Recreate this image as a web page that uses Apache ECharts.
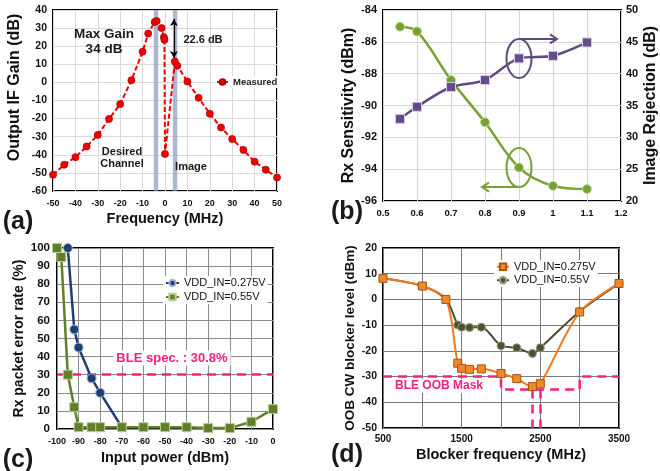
<!DOCTYPE html>
<html><head><meta charset="utf-8">
<script src="https://cdn.jsdelivr.net/npm/echarts/dist/echarts.min.js"></script>
<style>html,body{margin:0;padding:0;background:#fff}#c{width:660px;height:471px}</style>
</head><body><div id="c"></div>
<script>
// ---- (a) IF gain vs frequency
const aFreq = [-50,-45,-40,-35,-30,-25,-20,-15,-10,-7.5,-4.6,-3.7,-1.5,-0.5,-0.25,0,4.4,5.5,10,15,20,25,30,35,40,45,50];
const aGain = [-51,-45.5,-41.3,-35.4,-29,-20.2,-12,1.2,17,27,33.4,33.9,30,25,23.5,-39.5,11.5,9.2,0.5,-8.5,-17.3,-24.9,-31.3,-37.3,-43.8,-48.2,-52.5];
const aBands = [[-5,-3],[3.5,5.5]];
const aArrow = [[4,35],[4,13.5]];
// ---- (b) sensitivity & image rejection vs VDD
const bVdd = [0.55,0.6,0.7,0.8,0.9,1.0,1.1];
const bSens = [-85.05,-85.35,-88.4,-91.05,-93.9,-95.05,-95.25];
const bIR = [32.9,34.8,37.9,39.0,42.4,42.8,44.9];
// ---- (c) PER vs input power
const cPinLow = [-95,-92,-90,-84,-80,-70];
const cPerLow = [100,55,45,28,20,1];
const cPinHigh = [-100,-98,-95,-92,-90,-84,-80,-70,-60,-50,-40,-30,-20,-10,0];
const cPerHigh = [100,95,30,12,1,1,1,1,1,1,1,0.5,0.5,4,11];
const cSpec = 30;
// ---- (d) OOB blocker
const dFreq = [500,1000,1300,1450,1500,1600,1750,2000,2200,2400,2500,3000,3500];
const dLow = [8.2,5.2,0,-24.8,-26.8,-27.2,-27,-28.8,-30.8,-33.9,-32.8,-4.9,6.2];
const dHigh = [8.2,5.2,0,-9.9,-10.8,-10.9,-10.8,-18,-18.8,-21,-18.8,-4.7,6.2];
const dMaskX = [500,2000,2000,3000,3000,3500];
const dMaskY = [-30,-30,-35,-35,-30,-30];
const dMarkFreq = [2400,2500];
const legendText = {c275:'VDD_IN=0.275V', c55:'VDD_IN=0.55V', d275:'VDD_IN=0.275V', d55:'VDD_IN=0.55V'};

const zip = (a,b)=>a.map((v,i)=>[v,b[i]]);
const FF = 'Liberation Sans, Arial, sans-serif';
const PINK = '#f7207f';
const chart = echarts.init(document.getElementById('c'), null, {renderer:'canvas'});

function grid(l,t,w,h){return {left:l,top:t,width:w,height:h,show:true,borderColor:'#000',borderWidth:2,containLabel:false,backgroundColor:'transparent'};}
function xA(gi,min,max,itv,fs,margin,name,gap,split,extra){
  return Object.assign({gridIndex:gi,type:'value',min:min,max:max,interval:itv,
    name:name,nameLocation:'middle',nameGap:gap,
    nameTextStyle:{fontFamily:FF,fontWeight:'bold',fontSize:14.5,color:'#111'},
    axisLine:{show:false},axisTick:{show:false},
    axisLabel:{fontFamily:FF,fontWeight:'bold',fontSize:fs,color:'#111',margin:margin},
    splitLine:{show:true,lineStyle:{color:split,width:1}}},extra||{});
}
function yA(gi,min,max,itv,fs,margin,name,gap,nfs,split,extra){
  return Object.assign({gridIndex:gi,type:'value',min:min,max:max,interval:itv,
    name:name,nameLocation:'middle',nameGap:gap,
    nameTextStyle:{fontFamily:FF,fontWeight:'bold',fontSize:nfs,color:'#111'},
    axisLine:{show:false},axisTick:{show:false},
    axisLabel:{fontFamily:FF,fontWeight:'bold',fontSize:fs,color:'#111',margin:margin},
    splitLine:{show:!!split,lineStyle:{color:split||'#ccc',width:1}}},extra||{});
}

const option = {
  animation:false,
  backgroundColor:'#fff',
  grid:[grid(53,10,224,181),grid(383,10,239,191),grid(57,248,216,181),grid(383,248,236,180)],
  xAxis:[
    xA(0,-50,50,10,9,8,'Frequency (MHz)',20,'#dadada'),
    xA(1,0.5,1.2,0.1,9.5,7,'',20,'#d4d4d4'),
    xA(2,-100,0,10,9,8,'Input power (dBm)',21,'#8c8c8c'),
    xA(3,500,3500,500,10,6,'Blocker frequency (MHz)',19,'#7a7a7a',
      {axisLabel:{fontFamily:FF,fontWeight:'bold',fontSize:10,color:'#111',margin:6,
        formatter:v=>((v-500)%1000===0?String(v):'')}})
  ],
  yAxis:[
    yA(0,-60,40,10,10.5,6,'Output IF Gain (dB)',30,16,'#dadada',{nameTextStyle:{fontFamily:FF,fontWeight:'bold',fontSize:16,color:'#111',padding:[0,0,0,26]}}),
    yA(1,-96,-84,2,11,6,'Rx Sensitivity (dBm)',26,16,'#d4d4d4'),
    yA(1,20,50,5,11,5,'Image Rejection (dB)',22,16,null,{position:'right'}),
    yA(2,0,100,10,11.5,7,'Rx packet error rate (%)',31,14,'#8c8c8c'),
    yA(3,-50,20,10,10.5,6,'OOB CW blocker level (dBm)',26,13.5,'#7a7a7a')
  ],
  legend:[
    {data:['Measured'],left:215,top:76,orient:'vertical',itemWidth:11,itemHeight:7,itemGap:0,
     backgroundColor:'#fff',padding:[1,1],textStyle:{fontFamily:FF,fontSize:9.5,fontWeight:'bold',color:'#222'}},
    {data:['c275','c55'],left:163,top:276,orient:'vertical',itemWidth:13,itemHeight:8,itemGap:0,
     backgroundColor:'#fff',padding:[0,2],formatter:n=>legendText[n],
     textStyle:{fontFamily:FF,fontSize:11,color:'#111',lineHeight:14}},
    {data:['d275','d55'],left:494,top:260,orient:'vertical',itemWidth:12,itemHeight:8,itemGap:0,
     backgroundColor:'#fff',padding:[0,2],formatter:n=>legendText[n],
     textStyle:{fontFamily:FF,fontSize:11,color:'#111',lineHeight:13.5}}
  ],
  series:[
    {name:'Measured',type:'line',xAxisIndex:0,yAxisIndex:0,data:zip(aFreq,aGain),
     symbol:'circle',symbolSize:7,z:5,
     itemStyle:{color:'#f20000',borderColor:'#b00000',borderWidth:0.8},
     lineStyle:{color:'#f20000',width:2,type:[5,2.5]},
     markArea:{silent:true,itemStyle:{color:'rgba(140,158,192,0.72)'},
       data:aBands.map(b=>[{xAxis:b[0]},{xAxis:b[1]}])},
     markLine:{silent:true,symbol:['arrow','arrow'],symbolSize:[6,7],label:{show:false},
       lineStyle:{color:'#000',width:1.2,type:'solid'},
       data:[[{coord:aArrow[0]},{coord:aArrow[1]}]]}},
    {name:'sens',type:'line',xAxisIndex:1,yAxisIndex:1,data:zip(bVdd,bSens),smooth:0.35,
     symbol:'circle',symbolSize:9,z:5,
     itemStyle:{color:'#76a232',borderColor:'#c4dc9a',borderWidth:1},
     lineStyle:{color:'#77a037',width:2.5}},
    {name:'ir',type:'line',xAxisIndex:1,yAxisIndex:2,data:zip(bVdd,bIR),smooth:0.3,
     symbol:'rect',symbolSize:9,z:5,
     itemStyle:{color:'#654a8c',borderColor:'#d6cce6',borderWidth:1},
     lineStyle:{color:'#604a80',width:2.5}},
    {name:'c275',type:'line',xAxisIndex:2,yAxisIndex:3,data:zip(cPinLow,cPerLow),
     symbol:'circle',symbolSize:9,z:5,
     itemStyle:{color:'#1f3f70',borderColor:'#9fb4d6',borderWidth:1},
     lineStyle:{color:'#1f3f70',width:2.5}},
    {name:'c55',type:'line',xAxisIndex:2,yAxisIndex:3,data:zip(cPinHigh,cPerHigh),
     symbol:'rect',symbolSize:9,z:6,
     itemStyle:{color:'#5f7f2a',borderColor:'#b9cf8e',borderWidth:1},
     lineStyle:{color:'#5f7f2a',width:2.5},
     markLine:{silent:true,symbol:'none',label:{show:false},z:4,
       lineStyle:{color:PINK,width:2.5,type:[9,6]},data:[{yAxis:cSpec}]}},
    {name:'mask',type:'line',xAxisIndex:3,yAxisIndex:4,data:zip(dMaskX,dMaskY),
     symbol:'none',z:3,lineStyle:{color:PINK,width:2.5,type:[9,6]},
     markLine:{silent:true,symbol:'none',label:{show:false},
       lineStyle:{color:PINK,width:2.5,type:[9,6]},
       data:dMarkFreq.map(f=>[{coord:[f,dMaskY[2]]},{coord:[f,-50]}])}},
    {name:'d55',type:'line',xAxisIndex:3,yAxisIndex:4,data:zip(dFreq,dHigh),smooth:0.3,
     symbol:'circle',symbolSize:8,z:5,
     itemStyle:{color:'#4f4f31',borderColor:'#9a9a80',borderWidth:1},
     lineStyle:{color:'#4b4b2e',width:2}},
    {name:'d275',type:'line',xAxisIndex:3,yAxisIndex:4,data:zip(dFreq,dLow),smooth:0.3,
     symbol:'rect',symbolSize:8,z:6,
     itemStyle:{color:'#ef8a2a',borderColor:'#a85510',borderWidth:1},
     lineStyle:{color:'#ec7c22',width:2}}
  ]
};
chart.setOption(option);

// annotations
const T = (x,y,txt,fs,extra)=>({type:'text',x:x,y:y,z:50,
  style:Object.assign({text:txt,fontFamily:FF,fontWeight:'bold',fontSize:fs,fill:'#1a1a1a',align:'center',verticalAlign:'middle'},extra||{})});
const pP = chart.convertToPixel({xAxisIndex:1,yAxisIndex:2},[bVdd[4],bIR[4]]);
const pG = chart.convertToPixel({xAxisIndex:1,yAxisIndex:1},[bVdd[4],bSens[4]]);
const PUR='#604a80', GRN='#77a037';
const ell = (p,c)=>({type:'ellipse',z:50,shape:{cx:p[0],cy:p[1],rx:12.5,ry:19.5},style:{fill:null,stroke:c,lineWidth:2}});
const arrow = (x1,y,x2,c)=>{const d=x2>x1?-7:7;return [
  {type:'polyline',z:50,shape:{points:[[x1,y],[x2,y]]},style:{stroke:c,lineWidth:2,fill:null}},
  {type:'polyline',z:50,shape:{points:[[x2+d,y-4.5],[x2,y],[x2+d,y+4.5]]},style:{stroke:c,lineWidth:2,fill:null}}];};
chart.setOption({graphic:[
  T(104,42,'Max Gain\n34 dB',13.5,{lineHeight:15}),
  T(203,40,'22.6 dB',11),
  T(122,158,'Desired\nChannel',11,{lineHeight:12.5}),
  T(191,167,'Image',11),
  T(18,222,'(a)',25),
  T(347,212,'(b)',25),
  T(18,460,'(c)',25),
  T(347,455,'(d)',25),
  T(172,358,'BLE spec. : 30.8%',13,{fill:PINK,backgroundColor:'#fff',padding:[1,3]}),
  T(439,386,'BLE OOB Mask',12,{fill:PINK,backgroundColor:'#fff',padding:[1,3]}),
  ell(pP,PUR), ell(pG,GRN),
  ...arrow(pP[0],pP[1]-19.5,pP[0]+38,PUR),
  ...arrow(pG[0],pG[1]+19.5,pG[0]-37,GRN)
]});
</script></body></html>
